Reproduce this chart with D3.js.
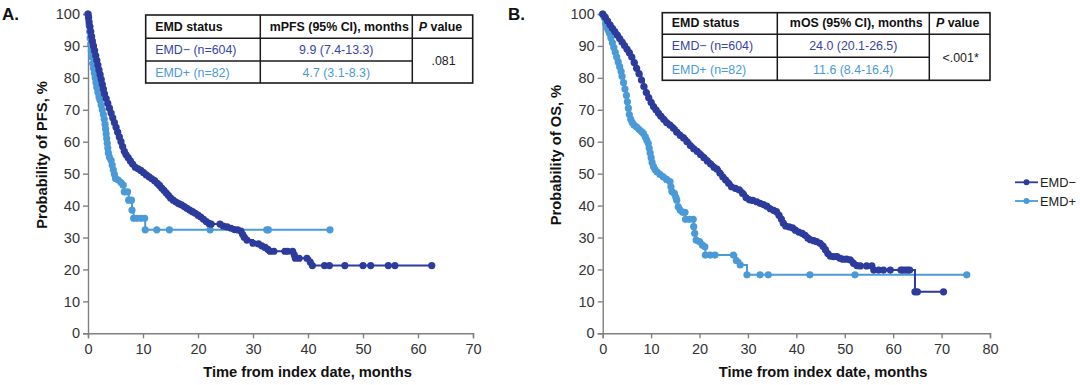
<!DOCTYPE html>
<html>
<head>
<meta charset="utf-8">
<script src="https://cdn.jsdelivr.net/npm/d3@7/dist/d3.min.js"></script>
<style>
  html, body { margin: 0; padding: 0; background: #fff; }
  svg { display: block; font-family: "Liberation Sans", Arial, sans-serif; }
</style>
</head>
<body>
<svg id="chart" width="1080" height="385"></svg>
<script>
// ---------------- DATA ----------------
const seriesNames = ["EMD\u2212", "EMD+"];
const yTicks = [0, 10, 20, 30, 40, 50, 60, 70, 80, 90, 100];
const pfsXTicks = [0, 10, 20, 30, 40, 50, 60, 70];
const osXTicks = [0, 10, 20, 30, 40, 50, 60, 70, 80];

// PFS, EMD− (time in months, survival %)
const pfsNegTime = [0,0.1,0.2,0.35,0.5,0.65,0.8,1.0,1.2,1.4,1.6,1.8,2.0,2.2,2.4,2.6,2.8,3.0,3.3,3.6,3.9,4.2,4.5,4.8,5.1,5.4,5.7,6.0,6.3,6.6,6.9,7.3,7.7,8.1,8.6,9.1,9.6,10.1,10.6,11.1,11.6,12.1,12.6,13.0,13.4,13.8,14.2,14.6,15.0,15.5,16.0,16.5,17.0,17.5,18.0,18.5,19.0,19.5,20.0,20.5,21.0,21.5,22.0,22.4,24.0,24.6,25.3,26.0,26.6,27.2,27.8,28.1,28.4,28.9,30.0,31.0,31.6,32.2,32.7,33.1,33.8,35.8,36.3,37.2,37.5,37.7,38.4,39.8,40.4,40.8,43.0,43.9,46.7,50.0,51.4,54.6,55.8,62.5];
const pfsNegSurv = [100,99,97.5,96,94.5,93,91.5,90,88.5,87,85.5,84,82.5,81,79.5,78,76.5,75,73.5,72,70.5,69,67.5,66,64.5,63,61.5,60,58.5,57,56,55,54,53,52,51.5,51,50.3,49.6,49,48.4,47.8,47,46.3,45.5,44.8,44,43.2,42.4,41.7,41.1,40.6,40.2,39.7,39.1,38.6,38.1,37.6,37.0,36.4,35.7,35.0,34.4,34.2,34.2,33.6,33.3,32.9,32.5,32.4,32.0,31.0,30.1,29.2,28.2,28.0,27.4,26.9,26.3,25.7,25.7,25.7,25.7,25.7,24.6,23.5,23.5,23.5,22.3,21.2,21.2,21.2,21.2,21.2,21.2,21.2,21.2,21.2];

// PFS, EMD+
const pfsPosTime = [0,0.1,0.2,0.3,0.4,0.5,0.6,0.7,0.85,1.0,1.15,1.3,1.45,1.6,1.8,2.0,2.2,2.4,2.6,2.8,2.95,3.1,3.2,3.3,3.4,3.5,3.6,3.7,3.9,4.2,4.4,4.6,4.8,5.0,5.5,6.0,6.4,6.6,7.2,7.4,7.9,8.0,8.3,8.9,9.6,10.3,10.4,12.5,14.8,22.2,32.5,32.8,44.0];
const pfsPosSurv = [100,98.5,96.5,94.5,92.5,90.5,88.5,86.5,84.5,83,81.5,80,78.5,77,75.5,74,73,71.5,70,68.5,67,65.5,64,62.5,61,59.5,58,56.5,55.2,54.2,52.7,51.2,49.8,48.5,48,47.2,46.4,44.3,44.3,41.7,41.7,38.6,36.0,36.0,36.0,36.0,32.4,32.4,32.4,32.4,32.4,32.4,32.4];

// OS, EMD−
const osNegTime = [0,0.5,1.0,1.5,2.0,2.5,3.0,3.5,4.0,4.5,5.0,5.5,6.0,6.5,7.0,7.5,8.0,8.5,9.0,9.5,10.0,10.5,11.0,11.5,12.0,12.6,13.2,13.9,14.6,15.3,16.0,16.7,17.4,18.1,18.8,19.5,20.2,20.9,21.6,22.3,23.0,23.6,24.2,24.8,25.4,26.0,26.6,27.4,28.2,28.9,29.6,30.3,31.0,31.8,32.5,33.2,33.9,34.6,35.3,35.9,36.4,36.9,37.3,37.8,38.5,39.2,39.8,40.5,41.2,41.8,42.4,42.9,43.6,44.2,44.9,45.5,46.0,46.5,47.0,47.7,48.4,49.0,49.6,50.4,51.1,51.8,52.5,53.2,54.5,55.6,56.0,57.0,58.0,59.4,61.6,62.0,62.5,63.0,63.4,64.5,65.0,70.4];
const osNegSurv = [100,99,97.8,96.6,95.5,94.5,93.4,92.3,91.2,90.1,89,87.9,86.5,84.8,83,81.3,79.3,77.3,75.4,73.8,72.3,71,70,69,68,67,66,65.2,64.2,63,62,61.2,60,58.8,57.8,57,56,55,54,53,52,51.4,50.2,49,48,47,45.9,45.4,44.9,43.8,42.5,41.8,41.6,41.2,40.7,40.3,39.8,39.0,38.5,38.1,37,35.8,34.5,33.6,33.3,33.0,32.3,31.7,31.3,30.7,29.8,29.3,29.0,28.7,28.2,27.3,26.2,25.0,24.2,24.0,24.0,23.5,23.2,23.2,23.0,21.9,21.2,21.1,21.1,21.1,19.8,19.8,19.8,19.8,19.8,19.8,19.8,19.8,19.8,13.0,13.0,13.0];

// OS, EMD+
const osPosTime = [0,0.3,0.6,0.8,1.1,1.4,1.7,2.0,2.3,2.6,2.9,3.2,3.5,3.8,4.0,4.3,4.6,4.9,5.1,5.3,5.5,5.8,6.1,6.5,7.0,7.5,8.0,8.4,8.8,9.1,9.4,9.6,9.8,10.0,10.2,10.5,10.8,11.2,11.8,12.5,13.2,13.9,14.1,14.3,14.8,15.1,15.3,15.6,16.0,16.5,17.0,17.1,17.9,18.7,18.8,19.0,19.3,20.0,20.6,21.1,21.2,22.2,23.2,27.0,27.6,28.4,29.8,32.5,34.2,42.8,52.1,75.2];
const osPosSurv = [100,99,97,96,95,94,92.5,91,89.5,88,86.5,85,83.5,82,80.5,78.5,76.5,74.5,72.5,70.5,68.5,67,66,65.2,64.6,63.9,63.2,62.6,61.5,60.5,59.5,58,56.5,55,53.5,52.2,51.3,50.6,49.8,49,48.2,47.5,45.9,44.4,43.8,42.6,41.7,39.6,38.6,37.9,37.9,35.7,35.7,35.7,33.4,31.3,29.2,28.7,27.6,27.1,24.5,24.5,24.5,24.5,22.8,21.4,18.3,18.3,18.3,18.3,18.3,18.3];

// Table contents
const tableHeaderA = ["EMD status", "mPFS (95% CI), months", "value"];
const tableRowsA = [["EMD\u2212 (n=604)", "9.9 (7.4-13.3)"], ["EMD+ (n=82)", "4.7 (3.1-8.3)"]];
const pValueA = ".081";
const tableHeaderB = ["EMD status", "mOS (95% CI), months", "value"];
const tableRowsB = [["EMD\u2212 (n=604)", "24.0 (20.1-26.5)"], ["EMD+ (n=82)", "11.6 (8.4-16.4)"]];
const pValueB = "<.001*";

// ---------------- STYLE ----------------
const colors = ["#2c3b9c", "#4b9ad8"];
const tableTextColors = ["#3644a6", "#4b9ad8"];
const axisColor = "#808080";
const textColor = "#333";

const svg = d3.select("#chart");
svg.append("rect").attr("width", 1080).attr("height", 385).attr("fill", "#fff");

function zipSeries(t, s) { return t.map((v, i) => ({ t: v, s: s[i] })); }

function drawPanel(cfg) {
  const g = svg.append("g");
  const x = d3.scaleLinear().domain(cfg.xDomain).range([cfg.left, cfg.right]);
  const y = d3.scaleLinear().domain([0, 100]).range([333.3, 14]);

  // axes
  const yAxis = d3.axisLeft(y).tickValues(yTicks).tickSize(5).tickPadding(3);
  const xAxis = d3.axisBottom(x).tickValues(cfg.xTicks).tickSize(5).tickPadding(5);
  const ya = g.append("g").attr("transform", `translate(${cfg.left},0)`).call(yAxis);
  const xa = g.append("g").attr("transform", `translate(0,333.3)`).call(xAxis);
  [ya, xa].forEach(a => {
    a.select(".domain").attr("stroke", axisColor).attr("stroke-width", 1.4);
    a.selectAll(".tick line").attr("stroke", axisColor).attr("stroke-width", 1.4);
    a.selectAll(".tick text").attr("fill", textColor).attr("font-size", 14.5)
      .attr("font-family", "Liberation Sans, Arial, sans-serif");
  });

  // axis titles
  g.append("text").attr("x", cfg.xTitleX).attr("y", 377).attr("text-anchor", "middle")
    .attr("font-weight", "bold").attr("font-size", 14.7).attr("fill", "#111")
    .text("Time from index date, months");
  g.append("text").attr("transform", `translate(${cfg.yTitleX},155) rotate(-90)`)
    .attr("text-anchor", "middle").attr("font-weight", "bold").attr("font-size", 14.7)
    .attr("fill", "#111").text(cfg.yTitle);
  g.append("text").attr("x", cfg.labelX).attr("y", 20).attr("font-weight", "bold")
    .attr("font-size", 17).attr("fill", "#111").text(cfg.label);

  // curves (EMD+ drawn first, EMD− on top)
  const line = d3.line().x(d => x(d.t)).y(d => y(d.s)).curve(d3.curveStepAfter);
  [1, 0].forEach(k => {
    const data = cfg.series[k];
    g.append("path").datum(data).attr("d", line).attr("fill", "none")
      .attr("stroke", colors[k]).attr("stroke-width", 2);
    g.selectAll(null).data(data).enter().append("circle")
      .attr("cx", d => x(d.t)).attr("cy", d => y(d.s)).attr("r", 3.6)
      .attr("fill", colors[k]);
  });

  // table
  const tb = cfg.table;
  const tg = g.append("g");
  const lc = "#1a1a1a";
  tg.append("rect").attr("x", tb.x0).attr("y", tb.y0).attr("width", tb.x3 - tb.x0)
    .attr("height", tb.y3 - tb.y0).attr("fill", "#fff").attr("stroke", lc).attr("stroke-width", 1.6);
  tg.append("line").attr("x1", tb.x0).attr("x2", tb.x3).attr("y1", tb.y1).attr("y2", tb.y1)
    .attr("stroke", lc).attr("stroke-width", 1.5);
  tg.append("line").attr("x1", tb.x0).attr("x2", tb.x2).attr("y1", tb.y2).attr("y2", tb.y2)
    .attr("stroke", lc).attr("stroke-width", 1.5);
  [tb.x1, tb.x2].forEach(xx => tg.append("line").attr("x1", xx).attr("x2", xx)
    .attr("y1", tb.y0).attr("y2", tb.y3).attr("stroke", lc).attr("stroke-width", 1.5));

  const fs = 12.4;
  const hb = tb.y1 - 7.5;
  tg.append("text").attr("x", tb.x0 + 9.5).attr("y", hb).attr("font-weight", "bold")
    .attr("font-size", fs).attr("fill", "#111").text(tb.header[0]);
  tg.append("text").attr("x", (tb.x1 + tb.x2) / 2 + 3).attr("y", hb).attr("text-anchor", "middle")
    .attr("font-weight", "bold").attr("font-size", fs).attr("fill", "#111").text(tb.header[1]);
  const pv = tg.append("text").attr("x", (tb.x2 + tb.x3) / 2 - 2).attr("y", hb)
    .attr("text-anchor", "middle").attr("font-weight", "bold").attr("font-size", fs).attr("fill", "#111");
  pv.append("tspan").attr("font-style", "italic").text("P");
  pv.append("tspan").text(" " + tb.header[2]);

  const rowBase = [tb.y2 - 7, tb.y3 - 6.5];
  tb.rows.forEach((r, i) => {
    tg.append("text").attr("x", tb.x0 + 9.5).attr("y", rowBase[i]).attr("font-size", fs)
      .attr("fill", tableTextColors[i]).text(r[0]);
    tg.append("text").attr("x", (tb.x1 + tb.x2) / 2).attr("y", rowBase[i]).attr("text-anchor", "middle")
      .attr("font-size", fs).attr("fill", tableTextColors[i]).text(r[1]);
  });
  tg.append("text").attr("x", (tb.x2 + tb.x3) / 2 + 1).attr("y", (tb.y1 + tb.y3) / 2 + 4.3)
    .attr("text-anchor", "middle").attr("font-size", fs).attr("fill", "#222").text(tb.pValue);
}

drawPanel({
  left: 88, right: 473, xDomain: [0, 70], xTicks: pfsXTicks,
  xTitleX: 307.5, yTitleX: 46.5, yTitle: "Probability of PFS, %", label: "A.", labelX: 2,
  series: [zipSeries(pfsNegTime, pfsNegSurv), zipSeries(pfsPosTime, pfsPosSurv)],
  table: { x0: 145.7, x1: 260.3, x2: 412.3, x3: 472.7, y0: 15, y1: 38.3, y2: 61, y3: 83,
           header: tableHeaderA, rows: tableRowsA, pValue: pValueA }
});

drawPanel({
  left: 602.7, right: 990, xDomain: [0, 80], xTicks: osXTicks,
  xTitleX: 823, yTitleX: 561, yTitle: "Probability of OS, %", label: "B.", labelX: 508,
  series: [zipSeries(osNegTime, osNegSurv), zipSeries(osPosTime, osPosSurv)],
  table: { x0: 662.3, x1: 777.3, x2: 929.3, x3: 990, y0: 12.7, y1: 34.3, y2: 57.3, y3: 80.3,
           header: tableHeaderB, rows: tableRowsB, pValue: pValueB }
});

// legend
const legend = svg.append("g");
seriesNames.forEach((name, i) => {
  const yy = 182.3 + i * 18.7;
  legend.append("line").attr("x1", 1015).attr("x2", 1038).attr("y1", yy).attr("y2", yy)
    .attr("stroke", colors[i]).attr("stroke-width", 1.8);
  legend.append("circle").attr("cx", 1026.5).attr("cy", yy).attr("r", 3).attr("fill", colors[i]);
  legend.append("text").attr("x", 1040).attr("y", yy + 4.5).attr("font-size", 12.8)
    .attr("fill", "#222").text(name);
});
</script>
</body>
</html>
